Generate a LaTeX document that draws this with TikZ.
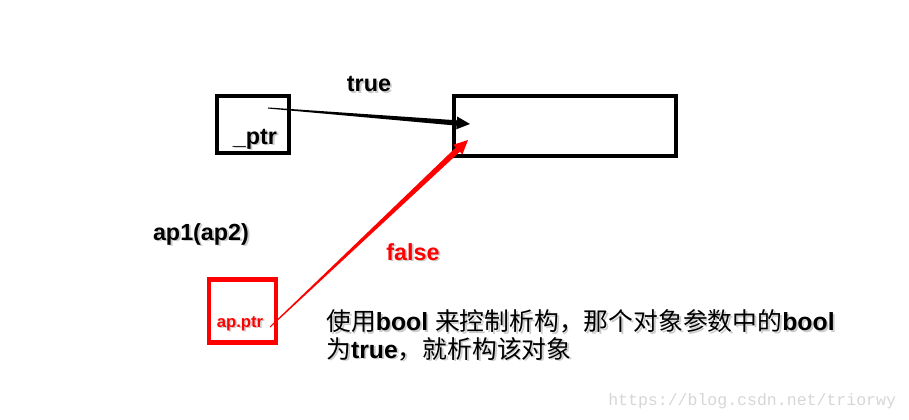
\documentclass[tikz,border=0pt]{standalone}
\usepackage{fontspec}
\setmainfont{Liberation Sans}
\setmonofont{Liberation Mono}
\newfontfamily\cjk{Noto Sans CJK SC}
\usetikzlibrary{calc}
\definecolor{myred}{RGB}{255,0,0}
\newcommand\shtxt[4]{%
  \node[#2, text=black!20, shift={(1.8,1.8)}] (#1-sh) at (#3) {#4};
  \node[#2] (#1) at (#3) {#4};}
\begin{document}
\begin{tikzpicture}[x=0.75pt,y=-0.75pt,
  lbl/.style={font=\bfseries\fontsize{17.5}{20}\selectfont, inner sep=0},
  boxn/.style={draw, line width=3pt, inner sep=0},
  note/.style={font=\fontsize{18.6}{20.7}\selectfont, inner sep=0, anchor=base west, align=left}]
\useasboundingbox (0,0) rectangle (909,419);
% boxes
\node[boxn, minimum width=54pt, minimum height=42.5pt] (ptrbox) at (252.5,124.5) {};
\node[boxn, minimum width=166.5pt, minimum height=45pt] (obj) at (564.5,125.5) {};
\node[boxn, draw=myred, line width=3.3pt, minimum width=50.25pt, minimum height=47pt] (apbox) at (242.5,311) {};
% labels
\shtxt{true}{lbl}{369,84}{true}
\shtxt{ptr}{lbl, anchor=base}{255,144}{\_ptr}
\shtxt{ap1}{lbl, anchor=base}{201,240}{ap1(ap2)}
\shtxt{apptr}{lbl, anchor=base, text=myred, font=\bfseries\fontsize{12.5}{15}\selectfont}{240,327}{ap.ptr}
\shtxt{false}{lbl, anchor=base, text=myred}{413,260}{false}
\shtxt{note}{note}{326,358}{{\cjk 使用}\textbf{bool} {\cjk 来控制析构，那个对象参数中的}\textbf{bool}\\{\cjk 为}\textbf{true}{\cjk ，就析构该对象}}
\node[anchor=base west, inner sep=0, text=black!16, font=\ttfamily\fontsize{12.4}{14}\selectfont] (wm) at (608,405) {https://blog.csdn.net/triorwy};
% black tapered arrow
\coordinate (bs) at (268,108);
\coordinate (bt) at (470,124);
\coordinate (bh) at ($(bt)!10pt!(bs)$);
\fill[black] ($(bs)!0.4pt!90:(bt)$) -- ($(bh)!2pt!90:(bt)$) -- ($(bh)!4.8pt!90:(bt)$) -- (bt)
  -- ($(bh)!4.8pt!-90:(bt)$) -- ($(bh)!2pt!-90:(bt)$) -- ($(bs)!0.4pt!-90:(bt)$) -- cycle;
% red tapered arrow
\coordinate (rs) at (270,327);
\coordinate (rt) at (468,140);
\coordinate (rh) at ($(rt)!10.5pt!(rs)$);
\fill[myred] ($(rs)!0.4pt!90:(rt)$) -- ($(rh)!2.2pt!90:(rt)$) -- ($(rh)!5pt!90:(rt)$) -- (rt)
  -- ($(rh)!5pt!-90:(rt)$) -- ($(rh)!2.2pt!-90:(rt)$) -- ($(rs)!0.4pt!-90:(rt)$) -- cycle;
\end{tikzpicture}
\end{document}
